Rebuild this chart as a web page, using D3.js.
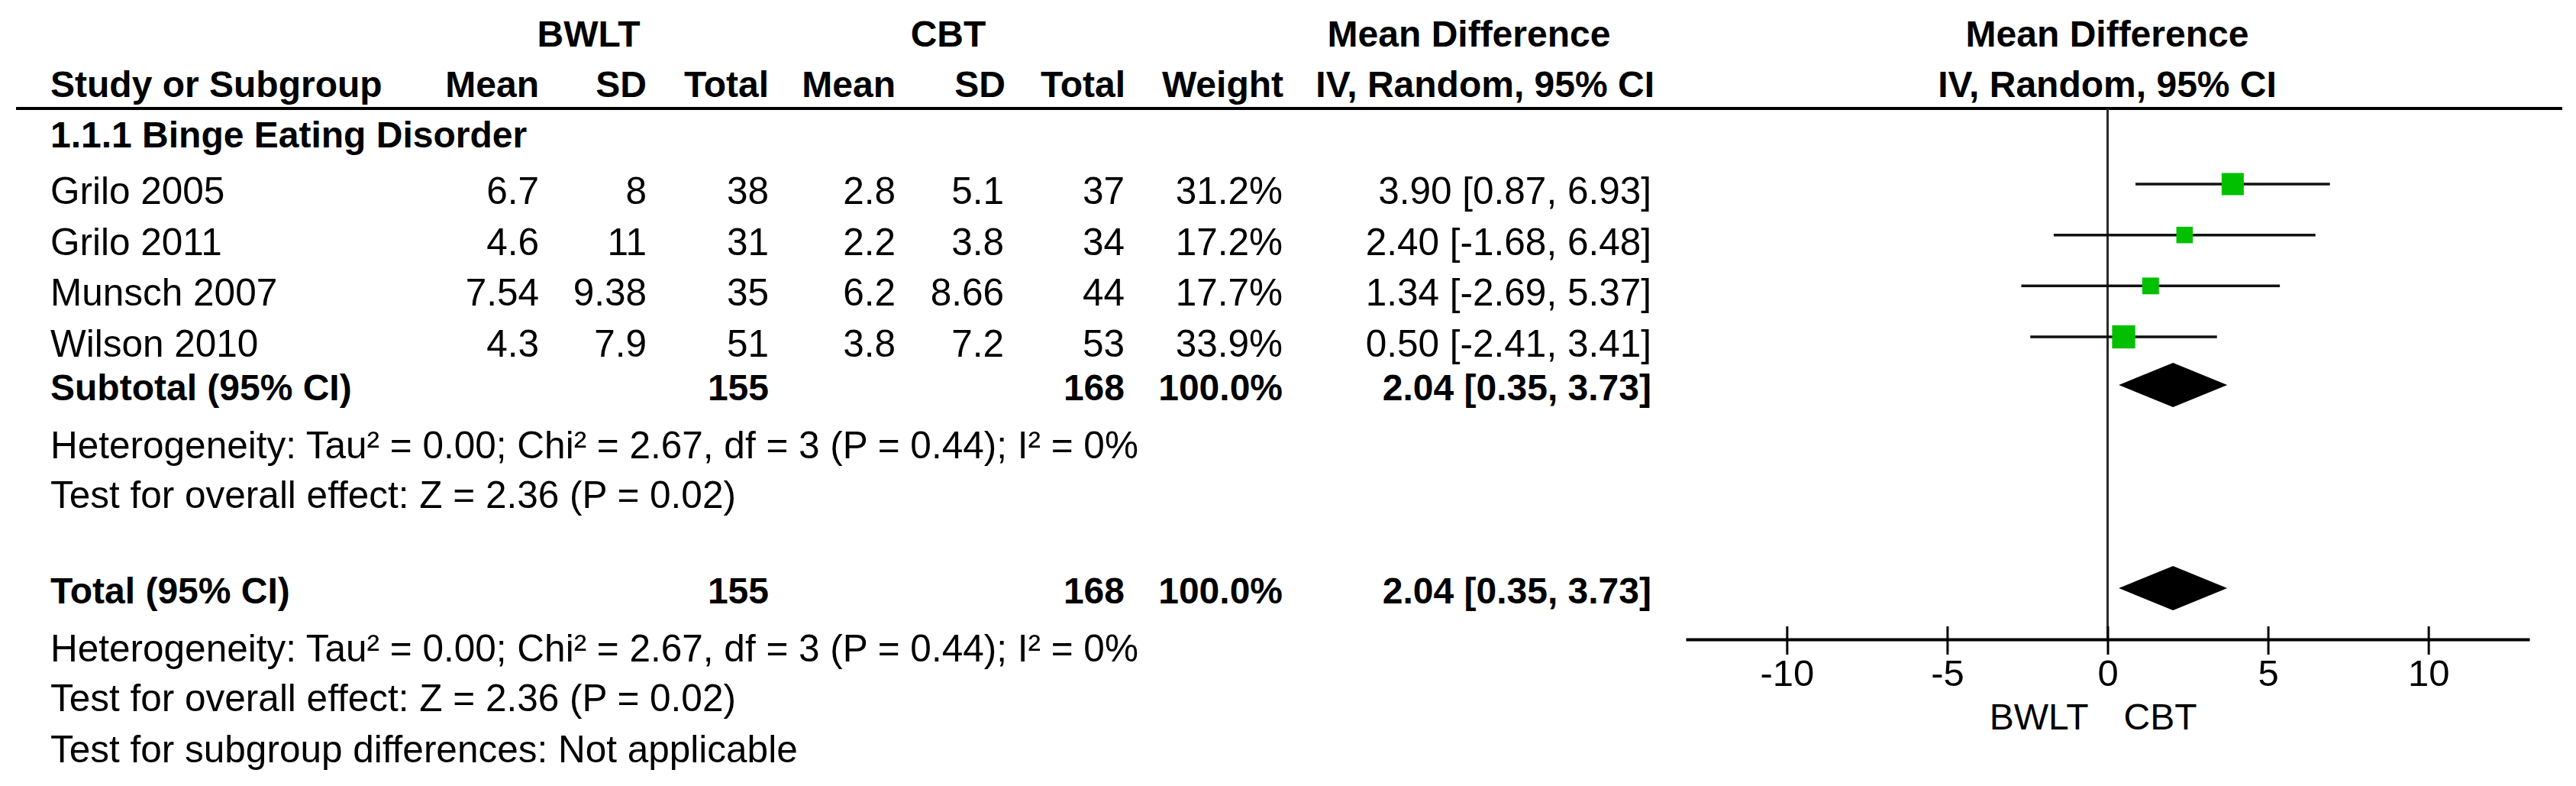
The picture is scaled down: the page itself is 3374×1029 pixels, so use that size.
<!DOCTYPE html>
<html>
<head>
<meta charset="utf-8">
<script src="https://cdn.jsdelivr.net/npm/d3@7"></script>
<style>
  html, body { margin: 0; padding: 0; background: #fff; }
  svg { display: block; }
  text { font-family: "Liberation Sans", Arial, sans-serif; fill: #000; }
</style>
</head>
<body>
<svg id="chart" width="3374" height="1029"></svg>
<script>
// ---------------- data ----------------
const studies   = ["Grilo 2005", "Grilo 2011", "Munsch 2007", "Wilson 2010"];
const bwltMean  = [6.7, 4.6, 7.54, 4.3];
const bwltSD    = [8, 11, 9.38, 7.9];
const bwltN     = [38, 31, 35, 51];
const cbtMean   = [2.8, 2.2, 6.2, 3.8];
const cbtSD     = [5.1, 3.8, 8.66, 7.2];
const cbtN      = [37, 34, 44, 53];
const weights   = [31.2, 17.2, 17.7, 33.9];
const meanDiff  = [3.90, 2.40, 1.34, 0.50];
const ciLower   = [0.87, -1.68, -2.69, -2.41];
const ciUpper   = [6.93, 6.48, 5.37, 3.41];

const pooledLabels = ["Subtotal (95% CI)", "Total (95% CI)"];
const pooledBWLT   = [155, 155];
const pooledCBT    = [168, 168];
const pooledWeight = [100.0, 100.0];
const pooledMD     = [2.04, 2.04];
const pooledLower  = [0.35, 0.35];
const pooledUpper  = [3.73, 3.73];

const subgroupTitle = "1.1.1 Binge Eating Disorder";
const heterogeneityText = "Heterogeneity: Tau² = 0.00; Chi² = 2.67, df = 3 (P = 0.44); I² = 0%";
const overallEffectText = "Test for overall effect: Z = 2.36 (P = 0.02)";
const subgroupDiffText  = "Test for subgroup differences: Not applicable";

const groupHeaders  = ["BWLT", "CBT", "Mean Difference", "Mean Difference"];
const columnHeaders = ["Study or Subgroup", "Mean", "SD", "Total", "Mean", "SD", "Total", "Weight", "IV, Random, 95% CI", "IV, Random, 95% CI"];
const axisTicks     = [-10, -5, 0, 5, 10];
const favoursLabels = ["BWLT", "CBT"];

// ---------------- layout ----------------
const svg = d3.select("#chart");
const REG = 49.5, BOLD = 48;

const x = d3.scaleLinear().domain([-13.15, 13.15]).range([2208, 3313]);
const rowY = d3.scaleLinear().domain([0, studies.length - 1]).range([267, 467]);
const sq = d3.scaleSqrt().domain([0, 100]).range([0, 52]);

const colX = {
  name: 66, bMean: 706, bSD: 847, bN: 1007, cMean: 1173, cSD: 1315, cN: 1473, w: 1680, ci: 2163
};

function txt(xp, y, s, opts = {}) {
  return svg.append("text")
    .attr("x", xp).attr("y", y)
    .attr("text-anchor", opts.anchor || "start")
    .style("font-size", (opts.bold ? BOLD : (opts.size || REG)) + "px")
    .style("font-weight", opts.bold ? "bold" : "normal")
    .text(s);
}
const f2 = v => v.toFixed(2);   // plain hyphen-minus, as in the reference

// header row 1
const gh = [771, 1242, 1924, 2760];
groupHeaders.forEach((h, i) => txt(gh[i], 61, h, { anchor: "middle", bold: true }));

// header row 2
const chX = [66, 706, 847, 1007, 1173, 1317, 1474, 1681, 2167, 2760];
const chA = ["start", "end", "end", "end", "end", "end", "end", "end", "end", "middle"];
columnHeaders.forEach((h, i) => txt(chX[i], 127, h, { anchor: chA[i], bold: true }));

// header rule
svg.append("line").attr("x1", 21).attr("x2", 3356).attr("y1", 142).attr("y2", 142)
  .attr("stroke", "#000").attr("stroke-width", 4);

// zero line
const axisY = 837;
svg.append("line").attr("x1", x(0)).attr("x2", x(0)).attr("y1", 142).attr("y2", axisY)
  .attr("stroke", "#2a2a2a").attr("stroke-width", 3);

// subgroup title
txt(colX.name, 193, subgroupTitle, { bold: true });

// study rows
studies.forEach((s, i) => {
  const y = rowY(i);
  txt(colX.name, y, s);
  txt(colX.bMean, y, String(bwltMean[i]), { anchor: "end" });
  txt(colX.bSD, y, String(bwltSD[i]), { anchor: "end" });
  txt(colX.bN, y, String(bwltN[i]), { anchor: "end" });
  txt(colX.cMean, y, String(cbtMean[i]), { anchor: "end" });
  txt(colX.cSD, y, String(cbtSD[i]), { anchor: "end" });
  txt(colX.cN, y, String(cbtN[i]), { anchor: "end" });
  txt(colX.w, y, weights[i].toFixed(1) + "%", { anchor: "end" });
  txt(colX.ci, y, `${f2(meanDiff[i])} [${f2(ciLower[i])}, ${f2(ciUpper[i])}]`, { anchor: "end" });

  const my = y - 26;
  svg.append("line").attr("x1", x(ciLower[i])).attr("x2", x(ciUpper[i]))
    .attr("y1", my).attr("y2", my).attr("stroke", "#111").attr("stroke-width", 3.5);
  const s2 = sq(weights[i]);
  svg.append("rect").attr("x", x(meanDiff[i]) - s2 / 2).attr("y", my - s2 / 2)
    .attr("width", s2).attr("height", s2).attr("fill", "#00c000");
});

// pooled rows
const pooledBase = [524, 790];
pooledLabels.forEach((lab, i) => {
  const y = pooledBase[i];
  txt(colX.name, y, lab, { bold: true });
  txt(colX.bN, y, String(pooledBWLT[i]), { anchor: "end", bold: true });
  txt(colX.cN, y, String(pooledCBT[i]), { anchor: "end", bold: true });
  txt(colX.w, y, pooledWeight[i].toFixed(1) + "%", { anchor: "end", bold: true });
  txt(colX.ci, y, `${f2(pooledMD[i])} [${f2(pooledLower[i])}, ${f2(pooledUpper[i])}]`, { anchor: "end", bold: true });
  const cy = y - 20, h = 29;
  const pts = [[x(pooledLower[i]), cy], [x(pooledMD[i]), cy - h], [x(pooledUpper[i]), cy], [x(pooledMD[i]), cy + h]];
  svg.append("path").attr("d", d3.line()(pts) + "Z").attr("fill", "#000");
  txt(colX.name, y + 76, heterogeneityText);
  txt(colX.name, y + 141, overallEffectText);
});
txt(colX.name, 998, subgroupDiffText);

// axis
const axis = d3.axisBottom(x).tickValues(axisTicks).tickSizeOuter(0).tickSizeInner(20)
  .tickFormat(d => d < 0 ? "-" + Math.abs(d) : String(d));
const ag = svg.append("g").attr("transform", `translate(0,${axisY})`).call(axis);
ag.select(".domain").attr("stroke", "#000").attr("stroke-width", 4);
ag.selectAll(".tick line").attr("y1", -17).attr("y2", 20).attr("stroke", "#000").attr("stroke-width", 3);
ag.selectAll(".tick text").attr("y", 61).attr("dy", 0)
  .style("font-family", "'Liberation Sans', Arial, sans-serif").style("font-size", "49px").attr("fill", "#000");

txt(x(0) - 25, 955, favoursLabels[0], { anchor: "end", size: 48 });
txt(x(0) + 21, 955, favoursLabels[1], { anchor: "start", size: 48 });
</script>
</body>
</html>
